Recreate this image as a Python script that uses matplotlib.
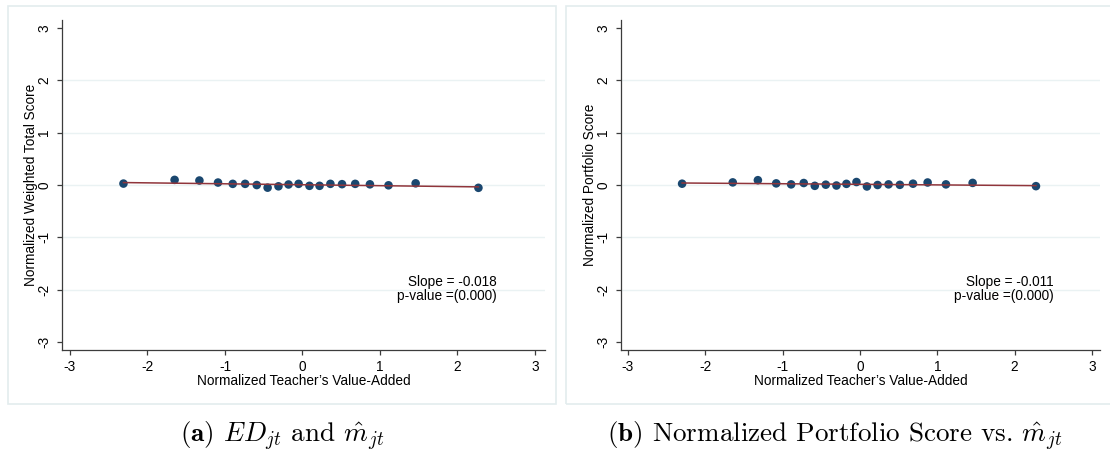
import matplotlib
matplotlib.use("Agg")
import matplotlib.pyplot as plt
from matplotlib.patches import Rectangle

# Binned means of normalized teacher value-added (x) and normalized scores (y)
va_a = [-2.31, -1.65, -1.33, -1.09, -0.90, -0.74, -0.59, -0.45, -0.31, -0.18,
        -0.05, 0.09, 0.22, 0.36, 0.51, 0.68, 0.87, 1.11, 1.46, 2.27]
score_a = [0.027, 0.098, 0.086, 0.047, 0.022, 0.022, -0.001, -0.051, -0.025, 0.010,
           0.022, -0.016, -0.016, 0.022, 0.016, 0.022, 0.013, -0.006, 0.032, -0.054]

va_b = [-2.30, -1.645, -1.32, -1.083, -0.89, -0.727, -0.584, -0.442, -0.304, -0.175,
        -0.045, 0.09, 0.228, 0.37, 0.516, 0.686, 0.875, 1.112, 1.457, 2.276]
score_b = [0.025, 0.050, 0.092, 0.031, 0.012, 0.038, -0.016, 0.006, -0.010, 0.022,
           0.057, -0.028, 0.0, 0.012, 0.003, 0.025, 0.048, 0.012, 0.040, -0.022]

# Linear fits (slope, intercept)
fit_a = (-0.018, 0.005)
fit_b = (-0.011, 0.013)
pval_a = "0.000"
pval_b = "0.000"

y_titles = ["Normalized Weighted Total Score", "Normalized Portfolio Score"]
x_title = "Normalized Teacher\u2019s Value-Added"
ticks = [-3, -2, -1, 0, 1, 2, 3]
captions = [r"$\mathbf{(a)}$ $ED_{jt}$ and $\hat{m}_{jt}$",
            r"$\mathbf{(b)}$ Normalized Portfolio Score vs. $\hat{m}_{jt}$"]

plt.rcParams["font.family"] = ["Liberation Sans", "DejaVu Sans"]
plt.rcParams["axes.unicode_minus"] = False
plt.rcParams["mathtext.fontset"] = "cm"

NAVY = "#1a476f"
MAROON = "#90353b"
GRID = "#eaf2f3"
FRAME = "#e3ecee"
AXIS = "#3c3c3c"

W, H = 1110, 454
fig = plt.figure(figsize=(W / 100, H / 100), dpi=100)
fig.patch.set_facecolor("white")

# light outer frames around each panel
for (x0, x1) in [(8, 556), (566, 1112)]:
    fig.patches.append(Rectangle((x0 / W, (H - 404) / H), (x1 - x0) / W, (404 - 6) / H,
                                 transform=fig.transFigure, fill=False,
                                 edgecolor=FRAME, linewidth=1.2))

panels = [
    dict(rect=[62 / W, (H - 350) / H, (545 - 62) / W, 330 / H], xlim=(-3.103, 3.129),
         x=va_a, y=score_a, fit=fit_a, p=pval_a, ytitle=y_titles[0], cap=captions[0],
         cx=282, ylx=-0.049),
    dict(rect=[621 / W, (H - 350) / H, (1100 - 621) / W, 330 / H], xlim=(-3.09, 3.104),
         x=va_b, y=score_b, fit=fit_b, p=pval_b, ytitle=y_titles[1], cap=captions[1],
         cx=835, ylx=-0.050),
]

for p in panels:
    ax = fig.add_axes(p["rect"])
    ax.set_xlim(*p["xlim"])
    ax.set_ylim(-3.155, 3.155)
    for yg in [-2, -1, 0, 1, 2]:
        ax.axhline(yg, color=GRID, linewidth=1.0, zorder=0)
    ax.scatter(p["x"], p["y"], s=38, color=NAVY, edgecolors="none", zorder=3)
    slope, icpt = p["fit"]
    xs = [min(p["x"]), max(p["x"])]
    ax.plot(xs, [icpt + slope * v for v in xs], color=MAROON, linewidth=1.1, zorder=4)
    ax.text(2.5, -1.86, f"Slope = {slope:.3f}", ha="right", va="center", fontsize=9.8)
    ax.text(2.5, -2.12, f"p-value =({p['p']})", ha="right", va="center", fontsize=9.8)

    ax.set_xticks(ticks)
    ax.set_yticks(ticks)
    ax.set_xticklabels([str(t) for t in ticks], fontsize=9.8)
    ax.set_yticklabels([str(t) for t in ticks], fontsize=9.8, rotation=90, va="center")
    ax.tick_params(axis="both", direction="out", length=3.6, width=0.9, color=AXIS)
    ax.tick_params(axis="x", pad=3.3)
    ax.tick_params(axis="y", pad=4.3)
    for s in ["top", "right"]:
        ax.spines[s].set_visible(False)
    for s in ["left", "bottom"]:
        ax.spines[s].set_color(AXIS)
        ax.spines[s].set_linewidth(0.9)
    ax.set_xlabel(x_title, fontsize=9.8)
    ax.xaxis.set_label_coords(0.5, -0.072)
    ax.set_ylabel(p["ytitle"], fontsize=9.8)
    ax.yaxis.set_label_coords(p["ylx"], 0.5)

    fig.text(p["cx"] / W, (H - 436) / H, p["cap"], ha="center", va="center",
             fontsize=19.5, family="cmr10")

fig.savefig("out.png", dpi=100, facecolor="white")
